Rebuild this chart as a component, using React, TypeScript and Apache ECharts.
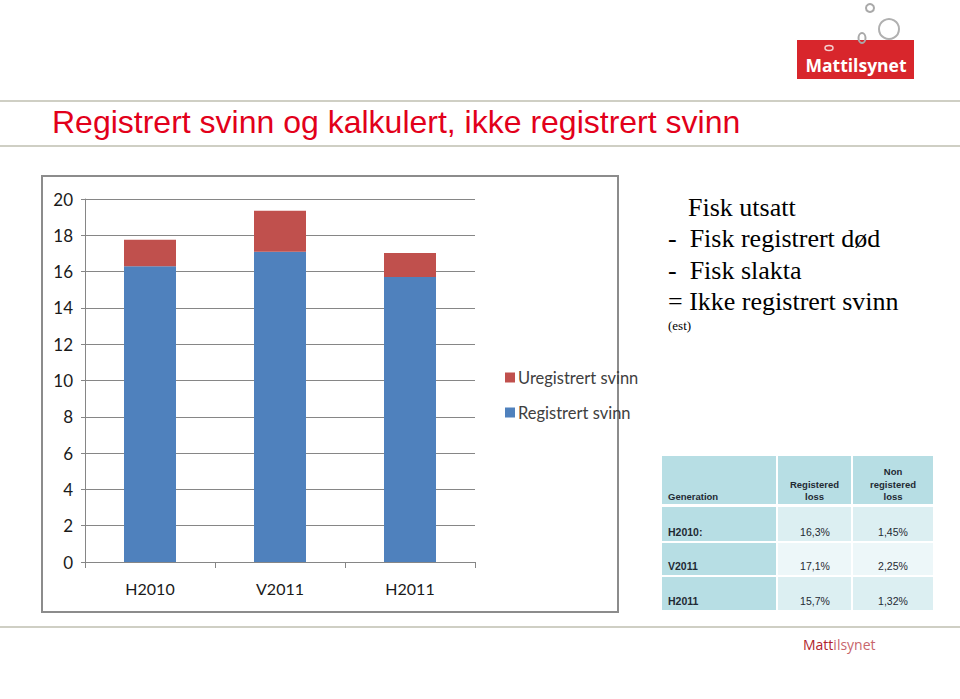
import React, { useEffect, useRef } from "react";
import * as echarts from "echarts";

const categories = ["H2010", "V2011", "H2011"];
const registrert = [16.3, 17.1, 15.7];
const uregistrert = [1.45, 2.25, 1.32];
const yTicks = { min: 0, max: 20, interval: 2 };
const tableRowLabels = ["H2010:", "V2011", "H2011"];
const tableHeaders = ["Generation", "Registered\nloss", "Non\nregistered\nloss"];
const textLines = ["Fisk utsatt", "-  Fisk registrert død", "-  Fisk slakta", "= Ikke registrert svinn"];

const fmt1 = (v: number) => v.toFixed(1).replace(".", ",") + "%";
const fmt2 = (v: number) => v.toFixed(2).replace(".", ",") + "%";

export default function App() {
  const ref = useRef<HTMLDivElement>(null);
  useEffect(() => {
    if (!ref.current) return;
    const chart = echarts.init(ref.current, undefined, { renderer: "svg" });
    const calibri = "Lato, 'Open Sans', sans-serif";
    const cols = [
      [662, 776],
      [778, 851],
      [853, 933],
    ];
    const rows = [
      [456, 504],
      [507, 541],
      [543, 575],
      [577, 610],
    ];
    const headFill = "#b7dee4";
    const dataFill = ["#dceff2", "#edf7f9", "#dceff2"];
    const tableEls: any[] = [];
    rows.forEach((r, ri) => {
      cols.forEach((c, ci) => {
        const fill = ri === 0 || ci === 0 ? headFill : dataFill[ri - 1];
        tableEls.push({
          type: "rect",
          shape: { x: c[0], y: r[0], width: c[1] - c[0], height: r[1] - r[0] },
          style: { fill },
          silent: true,
        });
      });
    });
    tableHeaders.forEach((h, ci) => {
      tableEls.push({
        type: "text",
        x: ci === 0 ? 668 : (cols[ci][0] + cols[ci][1]) / 2,
        y: 503,
        style: {
          text: h,
          fill: "#1f2a33",
          font: "bold 9.5px 'Liberation Sans', Arial, sans-serif",
          align: ci === 0 ? "left" : "center",
          verticalAlign: "bottom",
          lineHeight: 12.5,
        },
      });
    });
    tableRowLabels.forEach((lab, i) => {
      const yb = rows[i + 1][1] - 4;
      tableEls.push({
        type: "text",
        x: 668,
        y: yb,
        style: {
          text: lab,
          fill: "#1f2a33",
          font: "bold 10.5px 'Liberation Sans', Arial, sans-serif",
          align: "left",
          verticalAlign: "bottom",
        },
      });
      tableEls.push({
        type: "text",
        x: 815,
        y: yb,
        style: {
          text: fmt1(registrert[i]),
          fill: "#1f2a33",
          font: "10.5px 'Liberation Sans', Arial, sans-serif",
          align: "center",
          verticalAlign: "bottom",
        },
      });
      tableEls.push({
        type: "text",
        x: 893,
        y: yb,
        style: {
          text: fmt2(uregistrert[i]),
          fill: "#1f2a33",
          font: "10.5px 'Liberation Sans', Arial, sans-serif",
          align: "center",
          verticalAlign: "bottom",
        },
      });
    });

    const textEls: any[] = textLines.map((t, i) => ({
      type: "text",
      x: i === 0 ? 688 : 668,
      y: 207 + i * 31.5,
      style: {
        text: t,
        fill: "#000",
        font: "26px 'Liberation Serif', 'Times New Roman', serif",
        verticalAlign: "middle",
      },
    }));
    textEls.push({
      type: "text",
      x: 668,
      y: 325,
      style: {
        text: "(est)",
        fill: "#000",
        font: "13px 'Liberation Serif', serif",
        verticalAlign: "middle",
      },
    });

    const option: any = {
      animation: false,
      backgroundColor: "#ffffff",
      grid: { left: 85, right: 485, top: 199, bottom: 137, containLabel: false },
      legend: {
        orient: "vertical",
        left: 500,
        top: 364,
        itemWidth: 10,
        itemHeight: 10,
        itemGap: 18,
        icon: "rect",
        data: ["Uregistrert svinn", "Registrert svinn"],
        textStyle: { fontFamily: calibri, fontSize: 16.5, color: "#404040", padding: [0, 0, 0, -2] },
      },
      xAxis: {
        type: "category",
        data: categories,
        axisLine: { lineStyle: { color: "#868686", width: 1 } },
        axisTick: { show: true, length: 6, interval: 0, lineStyle: { color: "#868686" } },
        axisLabel: { fontFamily: calibri, fontSize: 16, color: "#1a1a1a", margin: 18 },
      },
      yAxis: {
        type: "value",
        min: yTicks.min,
        max: yTicks.max,
        interval: yTicks.interval,
        axisLine: { show: true, lineStyle: { color: "#868686" } },
        axisTick: { show: true, length: 4, lineStyle: { color: "#868686" } },
        splitLine: { lineStyle: { color: "#868686", width: 1 } },
        axisLabel: { fontFamily: calibri, fontSize: 17, color: "#1a1a1a", margin: 12 },
      },
      series: [
        {
          name: "Registrert svinn",
          type: "bar",
          stack: "total",
          data: registrert,
          barWidth: 52,
          itemStyle: { color: "#4f81bd" },
        },
        {
          name: "Uregistrert svinn",
          type: "bar",
          stack: "total",
          data: uregistrert,
          barWidth: 52,
          itemStyle: { color: "#c0504d" },
        },
      ],
      graphic: [
        { type: "line", shape: { x1: 0, y1: 101, x2: 960, y2: 101 }, style: { stroke: "#cfcfc4", lineWidth: 2 }, silent: true },
        { type: "line", shape: { x1: 0, y1: 146, x2: 960, y2: 146 }, style: { stroke: "#cfcfc4", lineWidth: 2 }, silent: true },
        { type: "line", shape: { x1: 0, y1: 627, x2: 960, y2: 627 }, style: { stroke: "#cfcfc4", lineWidth: 2 }, silent: true },
        {
          type: "text",
          x: 52,
          y: 122,
          style: {
            text: "Registrert svinn og kalkulert, ikke registrert svinn",
            fill: "#e2001a",
            font: "32px 'Liberation Sans', Arial, sans-serif",
            verticalAlign: "middle",
          },
        },
        {
          type: "rect",
          z: -1,
          shape: { x: 42, y: 176, width: 576, height: 436 },
          style: { fill: "#ffffff", stroke: "#8c8c8c", lineWidth: 2 },
          silent: true,
        },
        // top logo
        { type: "rect", shape: { x: 797, y: 40, width: 117, height: 39 }, style: { fill: "#d8262c" }, silent: true },
        { type: "circle", shape: { cx: 870, cy: 8, r: 4 }, style: { fill: "none", stroke: "#a9a9a9", lineWidth: 2 }, silent: true },
        { type: "circle", shape: { cx: 889, cy: 29, r: 10 }, style: { fill: "none", stroke: "#b0b0b0", lineWidth: 2 }, silent: true },
        { type: "ellipse", shape: { cx: 862, cy: 38, rx: 3.5, ry: 5 }, style: { fill: "none", stroke: "#a9a9a9", lineWidth: 2 }, silent: true },
        { type: "ellipse", shape: { cx: 829, cy: 48, rx: 4, ry: 2.5 }, style: { fill: "none", stroke: "#f4d0d0", lineWidth: 1.5 }, silent: true },
        {
          type: "text",
          x: 856,
          y: 65,
          style: {
            text: "Mattilsynet",
            fill: "#ffffff",
            font: "bold 17.5px 'Open Sans', 'DejaVu Sans', sans-serif",
            align: "center",
            verticalAlign: "middle",
          },
        },
        // footer logo
        {
          type: "text",
          x: 803,
          y: 644,
          style: {
            text: "{a|Matt}{b|ilsynet}",
            font: "14px 'Open Sans', sans-serif",
            verticalAlign: "middle",
            rich: {
              a: { fill: "#b01e2c", font: "14px 'Open Sans', sans-serif" },
              b: { fill: "#c8666c", font: "14px 'Open Sans', sans-serif" },
            },
          },
        },
        ...textEls,
        ...tableEls,
      ],
    };
    chart.setOption(option);
    return () => chart.dispose();
  }, []);
  return <div ref={ref} style={{ position: "absolute", left: 0, top: 0, width: 960, height: 699 }} />;
}
